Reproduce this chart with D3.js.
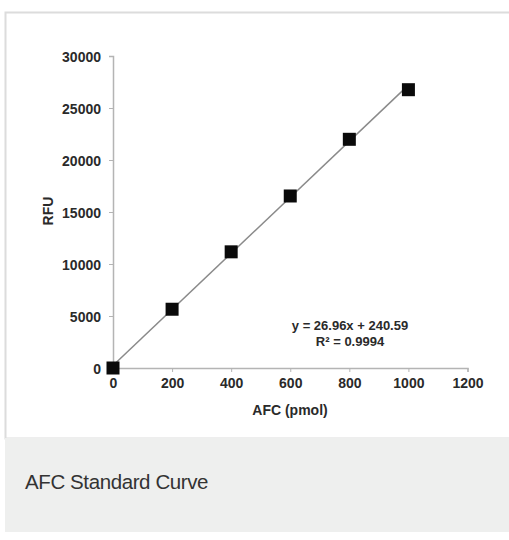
<!DOCTYPE html>
<html>
<head>
<meta charset="utf-8">
<script src="https://cdn.jsdelivr.net/npm/d3@7"></script>
<style>
  body { margin: 0; background: #fff; }
  svg { display: block; }
</style>
</head>
<body>
<svg id="chart" width="509" height="540"></svg>
<script>
// AFC standard curve data
const afcPmol = [0, 200, 400, 600, 800, 1000];
const rfu = [0, 5650, 11170, 16540, 21990, 26760];
const xTicks = [0, 200, 400, 600, 800, 1000, 1200];
const yTicks = [0, 5000, 10000, 15000, 20000, 25000, 30000];
const slope = 26.96, intercept = 240.59;
const eqLines = ["y = 26.96x + 240.59", "R\u00b2 = 0.9994"];
const caption = "AFC Standard Curve";

const svg = d3.select("#chart");
const font = "'Liberation Sans', Arial, sans-serif";

// frame + caption box
svg.append("rect")
    .attr("x", 5.5).attr("y", 12.5)
    .attr("width", 520).attr("height", 426)
    .attr("fill", "#fff")
    .attr("stroke", "#dcdcdc")
    .attr("stroke-width", 2);

svg.append("rect")
    .attr("x", 5).attr("y", 438)
    .attr("width", 504).attr("height", 94)
    .attr("fill", "#eeefee");

svg.append("text")
    .attr("x", 25).attr("y", 489)
    .attr("font-family", font)
    .attr("font-size", 20.5)
    .attr("letter-spacing", "-0.4px")
    .attr("fill", "#333")
    .text(caption);

const x = d3.scaleLinear().domain([0, 1200]).range([113, 467.5]);
const y = d3.scaleLinear().domain([0, 30000]).range([368, 56]);

// axes
let xAxis = svg.append("g")
    .attr("transform", "translate(0,368)")
    .call(d3.axisBottom(x).tickValues(xTicks).tickSize(4).tickPadding(6).tickFormat(d3.format("d")));
let yAxis = svg.append("g")
    .attr("transform", "translate(113,0)")
    .call(d3.axisLeft(y).tickValues(yTicks).tickSize(4).tickPadding(8).tickFormat(d3.format("d")));

[xAxis, yAxis].forEach(ax => {
    ax.select(".domain").attr("stroke", "#b4b4b4").attr("stroke-width", 1.5);
    ax.selectAll(".tick line").attr("stroke", "#b4b4b4");
    ax.selectAll("text")
        .attr("font-family", font)
        .attr("font-size", 14)
        .attr("font-weight", "bold")
        .attr("fill", "#2a2a2a");
});
yAxis.selectAll("text").attr("dy", "0.4em");

// axis titles
svg.append("text")
    .attr("x", 290).attr("y", 415)
    .attr("text-anchor", "middle")
    .attr("font-family", font).attr("font-size", 14).attr("font-weight", "bold")
    .attr("fill", "#2a2a2a")
    .text("AFC (pmol)");

svg.append("text")
    .attr("transform", "translate(53,211) rotate(-90)")
    .attr("text-anchor", "middle")
    .attr("font-family", font).attr("font-size", 14).attr("font-weight", "bold")
    .attr("fill", "#2a2a2a")
    .text("RFU");

// trend line from the fit
const trend = [0, 1000].map(v => [v, slope * v + intercept]);
svg.append("path")
    .datum(trend)
    .attr("d", d3.line().x(d => x(d[0])).y(d => y(d[1])))
    .attr("stroke", "#8a8a8a")
    .attr("stroke-width", 1.5)
    .attr("fill", "none");

// markers
const size = 13;
svg.selectAll("rect.pt")
    .data(afcPmol)
    .enter().append("rect")
    .attr("class", "pt")
    .attr("x", (d, i) => x(d) - size / 2)
    .attr("y", (d, i) => y(rfu[i]) - size / 2)
    .attr("width", size).attr("height", size)
    .attr("fill", "#0a0a0a");

// equation
svg.selectAll("text.eq")
    .data(eqLines)
    .enter().append("text")
    .attr("class", "eq")
    .attr("x", 350)
    .attr("y", (d, i) => 330 + i * 16)
    .attr("text-anchor", "middle")
    .attr("font-family", font).attr("font-size", 13).attr("font-weight", "bold")
    .attr("fill", "#2a2a2a")
    .text(d => d);
</script>
</body>
</html>
